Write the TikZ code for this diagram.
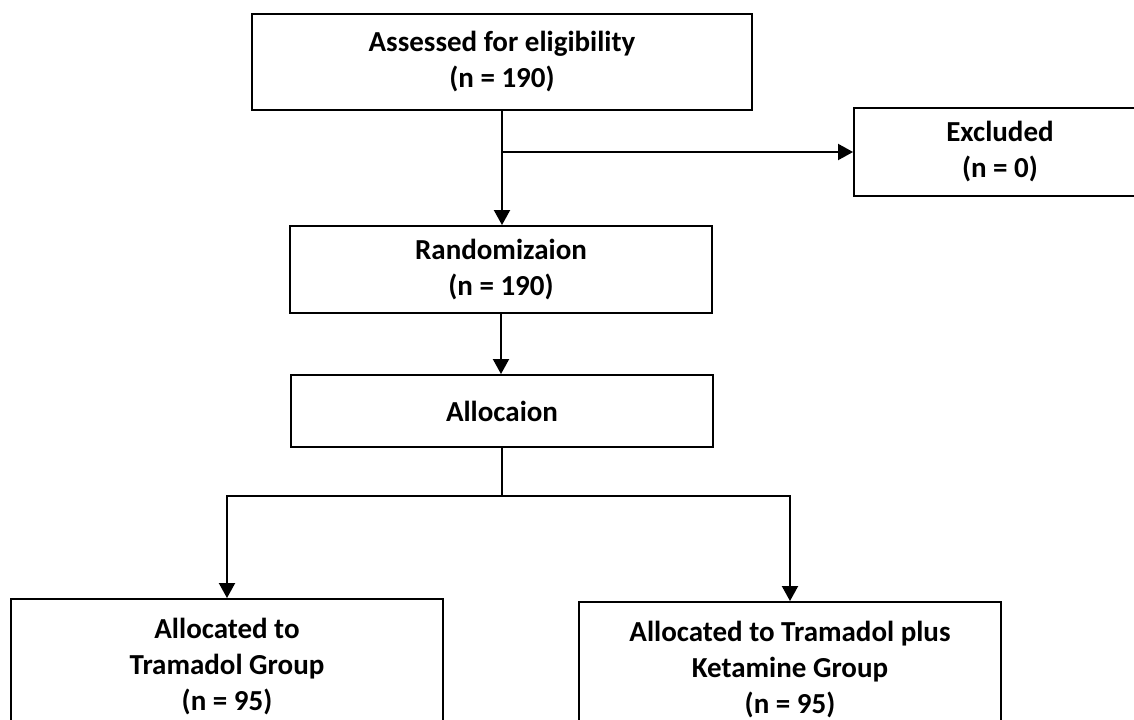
\documentclass[tikz,border=0pt]{standalone}
\usepackage{fontspec}
\setmainfont{Carlito}
\usetikzlibrary{arrows.meta}

\tikzset{
    box/.style={draw=black, line width=1.1pt, align=center, inner sep=0pt,
        font=\fontsize{16.5}{20.5}\selectfont\bfseries},
    arr/.style={line width=1.1pt, -{Triangle[length=0.3cm,width=0.32cm]}},
    lin/.style={line width=1.1pt}
}

\begin{document}
\begin{tikzpicture}[x=0.02cm, y=-0.02cm]
    \useasboundingbox (0,0) rectangle (1134,720);
    % Boxes of the flow chart
    \node[box, minimum width=10cm, minimum height=1.92cm] (assess) at (502,62)
        {Assessed for eligibility\\(n = 190)};
    \node[box, minimum width=5.84cm, minimum height=1.76cm] (excl) at (1000,152)
        {Excluded\\(n = 0)};
    \node[box, minimum width=8.44cm, minimum height=1.74cm] (rand) at (501,269.5)
        {Randomizaion\\(n = 190)};
    \node[box, minimum width=8.44cm, minimum height=1.44cm] (alloc) at (502,411)
        {Allocaion};
    \node[box, minimum width=8.64cm, minimum height=2.72cm] (tram) at (227,667)
        {Allocated to\\Tramadol Group\\(n = 95)};
    \node[box, minimum width=8.44cm, minimum height=2.72cm] (tramket) at (790,670)
        {Allocated to Tramadol plus\\Ketamine Group\\(n = 95)};
    % Connectors
    \coordinate (split) at (assess.south |- excl.west);
    \coordinate (fork) at ([yshift=-0.96cm]alloc.south);
    \draw[arr] (assess.south) -- (assess.south |- rand.north);
    \draw[arr] (split) -- (excl.west);
    \draw[arr] (rand.south) -- (rand.south |- alloc.north);
    \draw[lin] (alloc.south) -- (fork);
    \draw[arr] (fork) -| (tram.north);
    \draw[arr] (fork) -| (tramket.north);
\end{tikzpicture}
\end{document}
